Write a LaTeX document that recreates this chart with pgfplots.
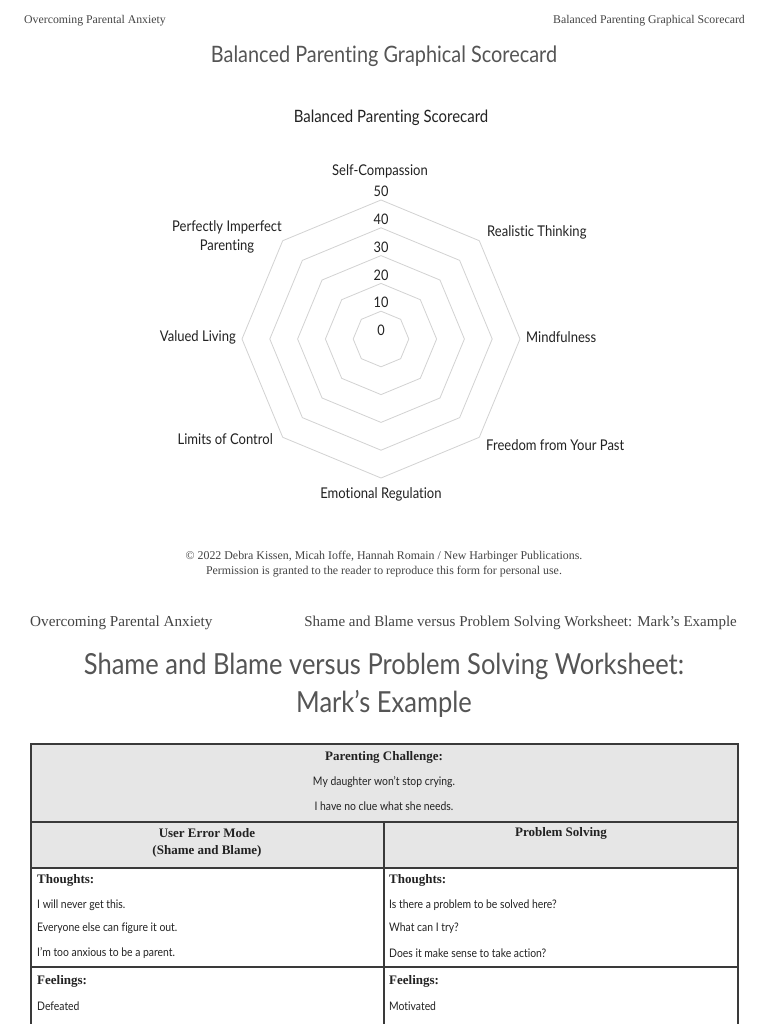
\documentclass[border=0pt]{standalone}
\usepackage{pgfplots}
\pgfplotsset{compat=1.18}
\usepgfplotslibrary{polar}
\usepackage{fontspec}
\setmainfont{Liberation Serif}
\newfontfamily\gsans[FakeStretch=0.88,Ligatures=NoCommon]{Lato}
\definecolor{ringcol}{HTML}{D2D2D2}
\definecolor{titlegray}{HTML}{555555}
\definecolor{txt}{HTML}{222222}
\definecolor{hdr}{HTML}{444444}
\definecolor{cellgray}{HTML}{E6E6E6}
\definecolor{tline}{HTML}{3A3A3A}
\begin{document}
\begin{tikzpicture}[x=1pt,y=1pt,every node/.style={inner sep=0pt}]
\clip (0,0) rectangle (768,-1024);
\fill[white] (0,0) rectangle (768,-1024);
% page 1 headers
\node[anchor=west,text=hdr,font=\fontsize{11.8}{13}\selectfont] at (24,-21) {Overcoming Parental Anxiety};
\node[anchor=east,text=hdr,font=\fontsize{11.8}{13}\selectfont] at (745,-21) {Balanced Parenting Graphical Scorecard};
\node[text=titlegray,font=\gsans\fontsize{22.6}{26}\selectfont] at (384,-56) {Balanced Parenting Graphical Scorecard};
\node[text=txt,font=\gsans\fontsize{17}{20}\selectfont] at (391,-118) {Balanced Parenting Scorecard};
% radar chart
\begin{polaraxis}[
  at={(381pt,-339pt)}, anchor=center,
  scale only axis, width=278pt, height=278pt,
  xmin=0, xmax=360, ymin=0, ymax=50,
  hide axis, clip=false,
]
\addplot[ringcol, line width=0.8pt, mark=none] coordinates {(0,10) (45,10) (90,10) (135,10) (180,10) (225,10) (270,10) (315,10) (360,10)};
\addplot[ringcol, line width=0.8pt, mark=none] coordinates {(0,20) (45,20) (90,20) (135,20) (180,20) (225,20) (270,20) (315,20) (360,20)};
\addplot[ringcol, line width=0.8pt, mark=none] coordinates {(0,30) (45,30) (90,30) (135,30) (180,30) (225,30) (270,30) (315,30) (360,30)};
\addplot[ringcol, line width=0.8pt, mark=none] coordinates {(0,40) (45,40) (90,40) (135,40) (180,40) (225,40) (270,40) (315,40) (360,40)};
\addplot[ringcol, line width=0.8pt, mark=none] coordinates {(0,50) (45,50) (90,50) (135,50) (180,50) (225,50) (270,50) (315,50) (360,50)};
\pgfplotsinvokeforeach{0,10,20,30,40,50}{
  \node[anchor=south,text=txt,font=\gsans\fontsize{14.5}{16}\selectfont,inner sep=0pt,yshift=3pt] at (axis cs:90,#1) {#1};
}
\end{polaraxis}
\begin{scope}[every node/.style={text=txt,font=\gsans\fontsize{14.8}{19}\selectfont,inner sep=0pt}]
\node at (380,-171) {Self-Compassion};
\node[anchor=west] at (487,-232) {Realistic Thinking};
\node[align=center] at (227,-237) {Perfectly Imperfect\\Parenting};
\node[anchor=west] at (526,-337) {Mindfulness};
\node[anchor=east] at (236,-337) {Valued Living};
\node[anchor=west] at (486,-445) {Freedom from Your Past};
\node[anchor=east] at (273,-439) {Limits of Control};
\node at (381,-494) {Emotional Regulation};
\end{scope}
% copyright
\node[text=hdr,font=\fontsize{11.9}{13}\selectfont] at (384,-557) {\copyright\ 2022 Debra Kissen, Micah Ioffe, Hannah Romain / New Harbinger Publications.};
\node[text=hdr,font=\fontsize{11.9}{13}\selectfont] at (384,-572) {Permission is granted to the reader to reproduce this form for personal use.};
% page 2 headers
\node[anchor=west,text=hdr,font=\fontsize{15.2}{17}\selectfont] at (30,-623) {Overcoming Parental Anxiety};
\node[anchor=east,text=hdr,font=\fontsize{15.0}{17}\selectfont] at (737,-623) {Shame and Blame versus Problem Solving Worksheet: Mark’s Example};
\node[text=titlegray,font=\gsans\fontsize{29}{34}\selectfont] at (384,-666) {Shame and Blame versus Problem Solving Worksheet:};
\node[text=titlegray,font=\gsans\fontsize{29}{34}\selectfont] at (384,-704) {Mark’s Example};
% table
\fill[cellgray] (31,-744) rectangle (738,-868);
\draw[tline,line width=1.4pt] (31,-1040) -- (31,-744) -- (738,-744) -- (738,-1040);
\draw[tline,line width=1.4pt] (31,-822) -- (738,-822);
\draw[tline,line width=1.4pt] (31,-868) -- (738,-868);
\draw[tline,line width=1.4pt] (31,-967) -- (738,-967);
\draw[tline,line width=1.4pt] (384,-822) -- (384,-1040);
\begin{scope}[every node/.style={text=txt,inner sep=0pt}]
\node[font=\bfseries\fontsize{13}{14}\selectfont] at (384,-757) {Parenting Challenge:};
\node[font=\gsans\fontsize{11.8}{13}\selectfont] at (384,-782) {My daughter won’t stop crying.};
\node[font=\gsans\fontsize{11.8}{13}\selectfont] at (384,-806) {I have no clue what she needs.};
\node[font=\bfseries\fontsize{13}{14}\selectfont] at (207,-833) {User Error Mode};
\node[font=\bfseries\fontsize{13}{14}\selectfont] at (207,-851) {(Shame and Blame)};
\node[font=\bfseries\fontsize{13}{14}\selectfont] at (561,-833) {Problem Solving};
\node[anchor=west,font=\bfseries\fontsize{13}{14}\selectfont] at (37,-880) {Thoughts:};
\node[anchor=west,font=\gsans\fontsize{11.8}{13}\selectfont] at (37,-905) {I will never get this.};
\node[anchor=west,font=\gsans\fontsize{11.8}{13}\selectfont] at (37,-928) {Everyone else can figure it out.};
\node[anchor=west,font=\gsans\fontsize{11.8}{13}\selectfont] at (37,-953) {I’m too anxious to be a parent.};
\node[anchor=west,font=\bfseries\fontsize{13}{14}\selectfont] at (389,-880) {Thoughts:};
\node[anchor=west,font=\gsans\fontsize{11.8}{13}\selectfont] at (389,-905) {Is there a problem to be solved here?};
\node[anchor=west,font=\gsans\fontsize{11.8}{13}\selectfont] at (389,-928) {What can I try?};
\node[anchor=west,font=\gsans\fontsize{11.8}{13}\selectfont] at (389,-953) {Does it make sense to take action?};
\node[anchor=west,font=\bfseries\fontsize{13}{14}\selectfont] at (37,-981) {Feelings:};
\node[anchor=west,font=\gsans\fontsize{11.8}{13}\selectfont] at (37,-1006) {Defeated};
\node[anchor=west,font=\bfseries\fontsize{13}{14}\selectfont] at (389,-981) {Feelings:};
\node[anchor=west,font=\gsans\fontsize{11.8}{13}\selectfont] at (389,-1006) {Motivated};
\end{scope}
\end{tikzpicture}
\end{document}
